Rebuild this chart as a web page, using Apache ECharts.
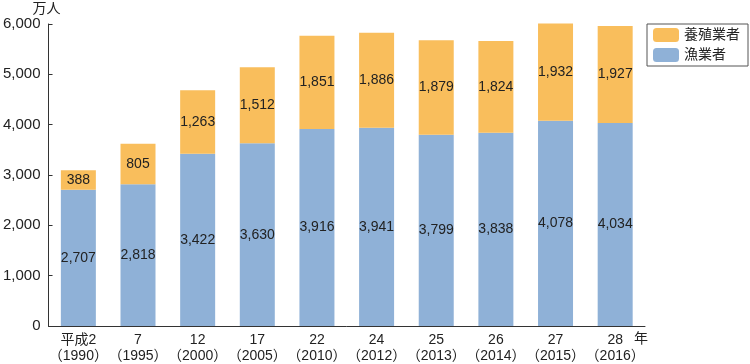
<!DOCTYPE html>
<html><head><meta charset="utf-8">
<script src="https://cdn.jsdelivr.net/npm/echarts@6/dist/echarts.min.js"></script>
<style>html,body{margin:0;padding:0;background:#fff}#c{width:750px;height:364px}</style>
</head><body><div id="c"></div>
<script>
const categories = ['平成2\n（1990）','7\n（1995）','12\n（2000）','17\n（2005）','22\n（2010）','24\n（2012）','25\n（2013）','26\n（2014）','27\n（2015）','28\n（2016）'];
const fishers = [2707,2818,3422,3630,3916,3941,3799,3838,4078,4034];
const aquaculture = [388,805,1263,1512,1851,1886,1879,1824,1932,1927];
const yTicks = [0,1000,2000,3000,4000,5000,6000];
const font = '"Liberation Sans", "Noto Sans CJK JP", sans-serif';
const chart = echarts.init(document.getElementById('c'));
const lbl = {show:true, position:'inside', color:'#222', fontSize:14, fontFamily:font, formatter:p=>p.value.toLocaleString('en-US')};
chart.setOption({
  animation:false,
  textStyle:{fontFamily:font},
  grid:{left:48, right:105, top:24, bottom:37},
  legend:{
    right:2, top:24, orient:'vertical', itemWidth:26, itemHeight:14, itemGap:6,
    borderColor:'#555', borderWidth:1, padding:[4,8,4,6],
    textStyle:{fontSize:14, color:'#222', fontFamily:font},
    data:['養殖業者','漁業者']
  },
  xAxis:{
    type:'category', data:categories,
    axisLine:{lineStyle:{color:'#333'}}, axisTick:{show:false},
    axisLabel:{interval:0, color:'#222', fontSize:14, lineHeight:16, margin:6, fontFamily:font}
  },
  yAxis:{
    type:'value', min:0, max:6000, interval:1000,
    name:'万人', nameGap:8, nameTextStyle:{color:'#222', fontSize:14, align:'right', padding:[0,-12,0,0]},
    axisLine:{show:true, lineStyle:{color:'#333'}},
    axisTick:{show:true, inside:true, length:4, lineStyle:{color:'#333'}},
    splitLine:{show:false},
    axisLabel:{color:'#222', fontSize:15, margin:8, formatter:v=>yTicks.includes(v)?v.toLocaleString('en-US'):''}
  },
  series:[
    {name:'漁業者', type:'bar', stack:'t', barWidth:35, clip:false, data:fishers, itemStyle:{color:'#8FB1D7'}, label:lbl},
    {name:'養殖業者', type:'bar', stack:'t', barWidth:35, clip:false, data:aquaculture, itemStyle:{color:'#F9BE5C'}, label:lbl}
  ],
  graphic:[{type:'text', left:634, top:332, style:{text:'年', fontSize:14, fill:'#222', fontFamily:font}}]
});
</script></body></html>
